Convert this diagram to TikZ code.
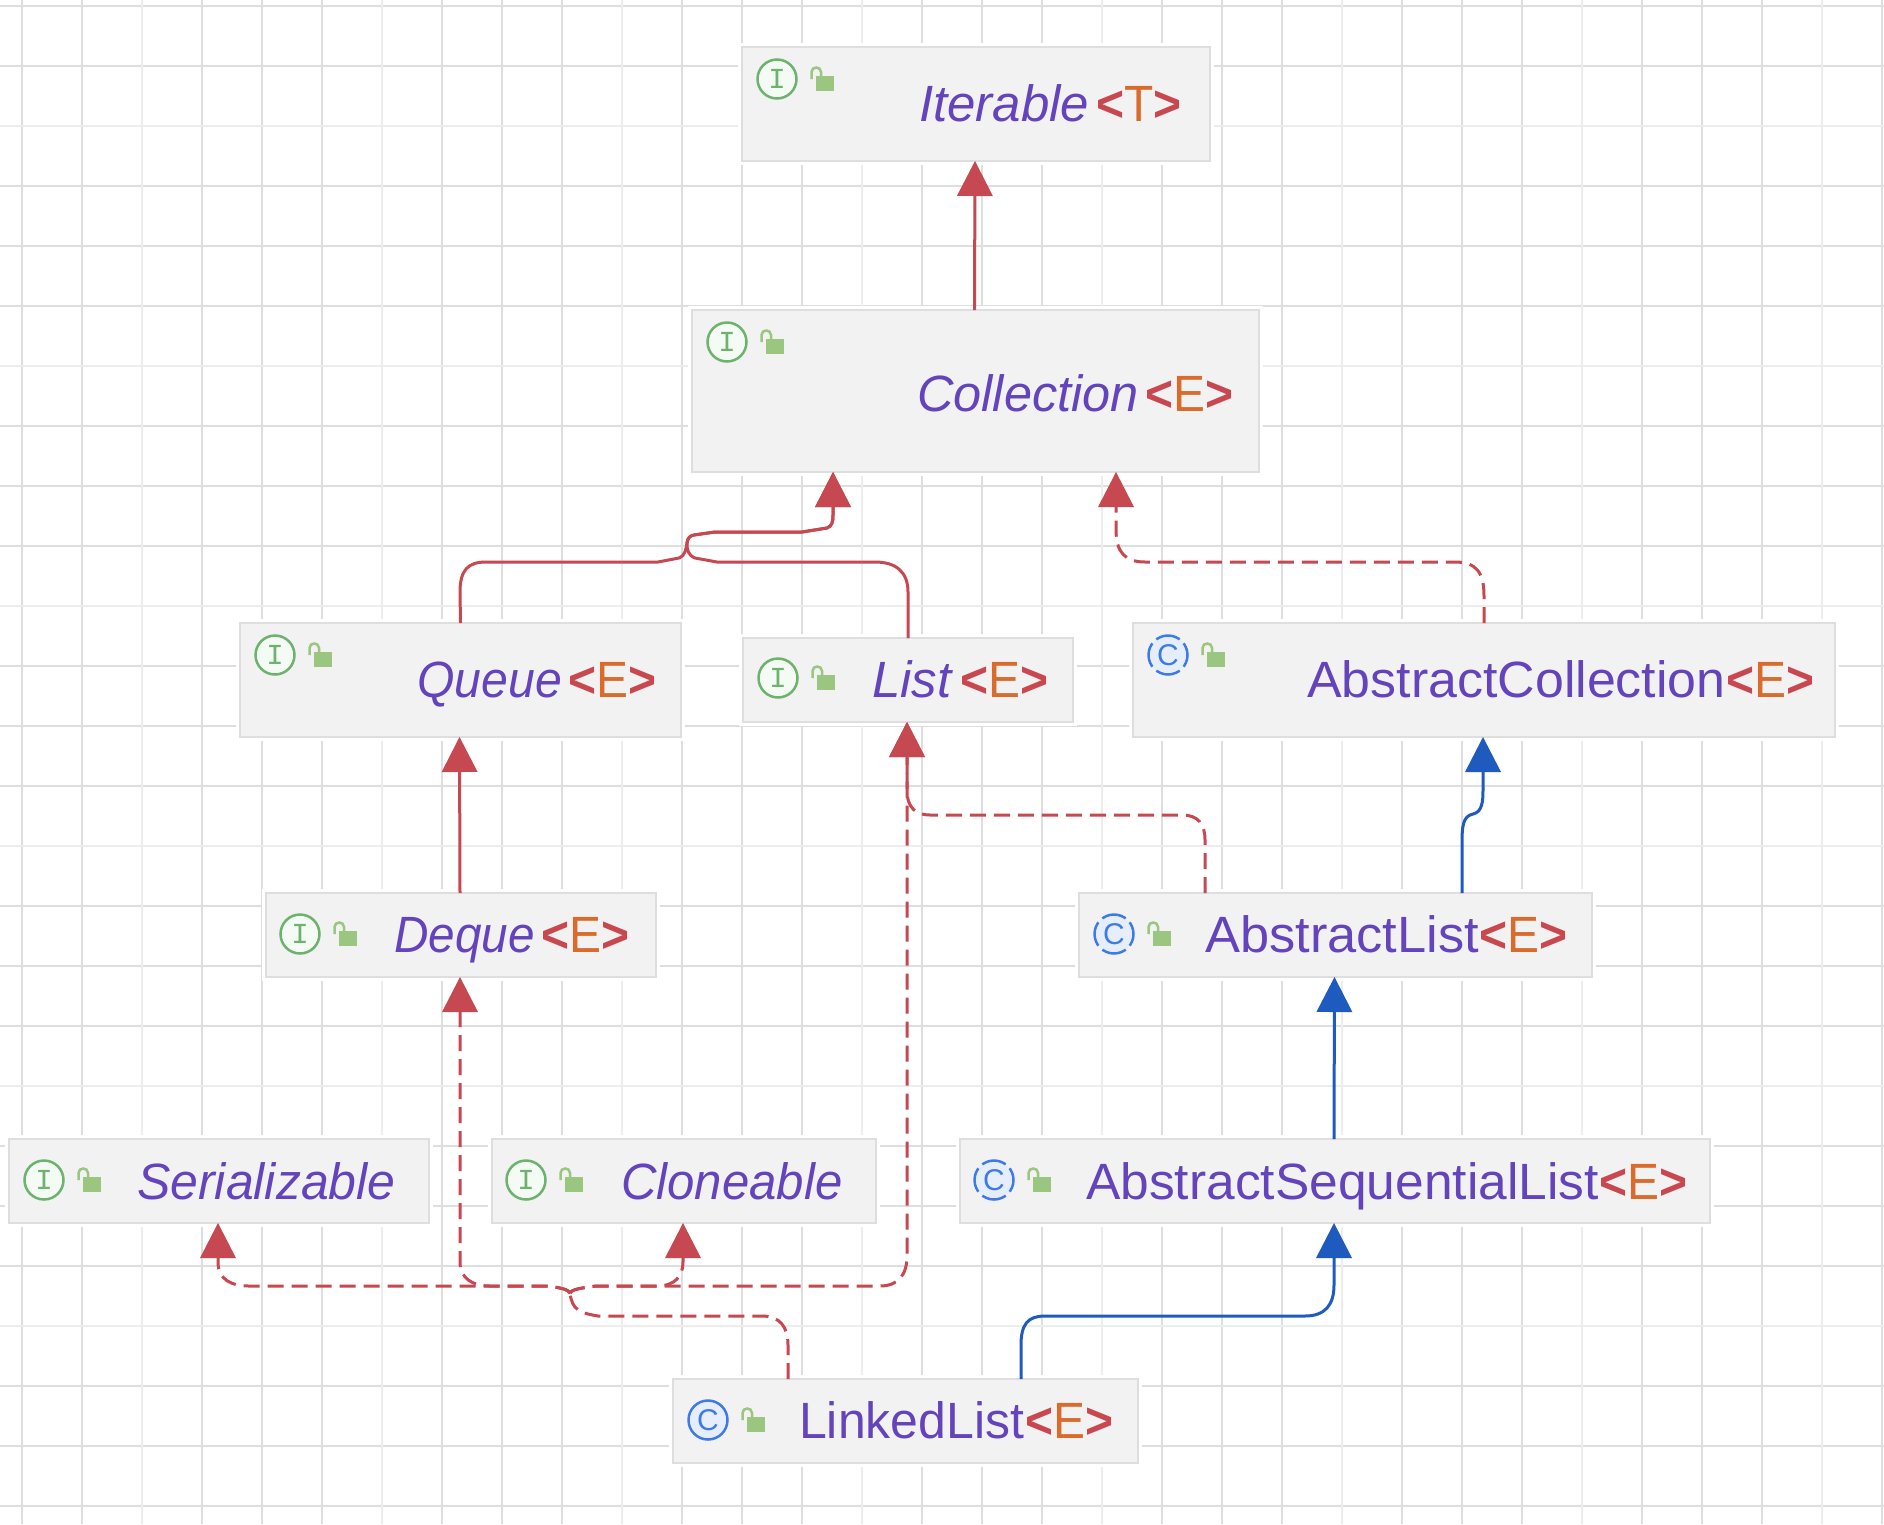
\documentclass[tikz,border=0pt]{standalone}
\usepackage{fontspec}
\usepackage{graphicx}
\setmainfont{Liberation Sans}
\newfontfamily\markfont{Liberation Mono}
\usepackage{xcolor}
\usetikzlibrary{arrows.meta}
\definecolor{gridline}{HTML}{DEDEDE}
\definecolor{gridlight}{HTML}{EDEDED}
\definecolor{boxfill}{HTML}{F2F2F2}
\definecolor{namepurple}{HTML}{6444BC}
\definecolor{anglered}{HTML}{C9474F}
\definecolor{paramorange}{HTML}{D96B2D}
\definecolor{arrowred}{HTML}{C64850}
\definecolor{arrowblue}{HTML}{1F5BBE}
\definecolor{ifacegreen}{HTML}{6DB36D}
\definecolor{ifacefill}{HTML}{F4FAF4}
\definecolor{classblue}{HTML}{3F7BE8}
\definecolor{classfill}{HTML}{E6EEFC}
\definecolor{lockgreen}{HTML}{9AC680}
\newcommand{\generic}[1]{\scalebox{.94}[1]{\textcolor{anglered}{\textbf{<}}\textcolor{paramorange}{#1}\textcolor{anglered}{\textbf{>}}}}
\newcommand{\iname}[2][1]{\scalebox{#1}[1]{\textcolor{namepurple}{\textit{#2}}}\hspace{7pt}}
\newcommand{\cname}[2][1]{\scalebox{#1}[1]{\textcolor{namepurple}{#2}}\hspace{1pt}}

\begin{document}
\begin{tikzpicture}[
    x=1pt, y=-1pt,
    box/.style={draw=gridline, fill=boxfill, line width=2.5pt, inner sep=0pt, outer sep=0pt,
                preaction={draw=white, line width=8pt}},
    title/.style={anchor=base west, inner sep=0pt, font=\fontsize{51}{60}\selectfont},
    markc/.style={circle, minimum size=39pt, inner sep=0pt, line width=2.5pt},
    lockicon/.pic={
        \fill[lockgreen] (39,-3) rectangle (57,12);
        \draw[lockgreen, line width=2.5pt] (34.5,0) -- (34.5,-7)
            .. controls (34.5,-13) and (44,-13) .. (44,-7) -- (44,-3);
    },
    ifaceicon/.pic={
        \node[markc, draw=ifacegreen, fill=ifacefill, text=ifacegreen,
              font=\markfont\fontsize{29}{29}\selectfont] (-mark) at (0,0) {I};
        \pic {lockicon};
    },
    classicon/.pic={
        \node[markc, draw=classblue, fill=classfill, text=classblue,
              font=\fontsize{30}{30}\selectfont] (-mark) at (0,0) {C};
        \pic {lockicon};
    },
    absicon/.pic={
        \node[markc, draw=classblue, fill=classfill, text=classblue,
              dash pattern=on 25pt off 5.6pt, dash phase=12.5pt,
              font=\fontsize{30}{30}\selectfont] (-mark) at (0,0) {C};
        \pic {lockicon};
    },
    redarr/.style={-{Triangle[length=35pt, width=36pt, line width=0pt]}, line width=3pt, arrowred},
    dasharr/.style={redarr, dash pattern=on 16pt off 8pt},
    bluearr/.style={-{Triangle[length=35pt, width=36pt, line width=0pt]}, line width=3pt, arrowblue}
]
\useasboundingbox (0,0) rectangle (1884,1524);
\fill[white] (0,0) rectangle (1884,1524);

\foreach \x in {22,82,...,1882} \draw[gridline, line width=2pt] (\x,0) -- (\x,1524);
\foreach \y in {6,66,...,1506} \draw[gridline, line width=2pt] (0,\y) -- (1884,\y);
\foreach \x in {142,382,...,1822} \draw[gridlight, line width=2pt] (\x,0) -- (\x,1524);
\foreach \y in {126,366,...,1326} \draw[gridlight, line width=2pt] (0,\y) -- (1884,\y);

\node[box, minimum width=468, minimum height=114] (Iterable) at (976,104) {};
\node[box, minimum width=567, minimum height=162] (Collection) at (975.5,391) {};
\node[box, minimum width=441, minimum height=114] (Queue) at (460.5,680) {};
\node[box, minimum width=330, minimum height=84] (List) at (908,680) {};
\node[box, minimum width=702, minimum height=114] (AbstractCollection) at (1484,680) {};
\node[box, minimum width=390, minimum height=84] (Deque) at (461,935) {};
\node[box, minimum width=513, minimum height=84] (AbstractList) at (1335.5,935) {};
\node[box, minimum width=420, minimum height=84] (Serializable) at (219,1181) {};
\node[box, minimum width=384, minimum height=84] (Cloneable) at (684,1181) {};
\node[box, minimum width=750, minimum height=84] (AbstractSequentialList) at (1335,1181) {};
\node[box, minimum width=465, minimum height=84] (LinkedList) at (905.5,1421) {};

\pic (IterableIcon) at (777,79) {ifaceicon};
\pic (CollectionIcon) at (727,342) {ifaceicon};
\pic (QueueIcon) at (275,655) {ifaceicon};
\pic (ListIcon) at (778,678) {ifaceicon};
\pic (AbstractCollectionIcon) at (1168,655) {absicon};
\pic (DequeIcon) at (300,934) {ifaceicon};
\pic (AbstractListIcon) at (1114,934) {absicon};
\pic (SerializableIcon) at (44,1180) {ifaceicon};
\pic (CloneableIcon) at (526,1180) {ifaceicon};
\pic (AbstractSequentialListIcon) at (994,1180) {absicon};
\pic (LinkedListIcon) at (708,1420) {classicon};

\node[title] (IterableName) at (919,121) {\iname{Iterable}\generic{T}};
\node[title] (CollectionName) at (917,411) {\iname[.99]{Collection}\generic{E}};
\node[title] (QueueName) at (417,697) {\iname[.945]{Queue}\generic{E}};
\node[title] (ListName) at (872,697) {\iname{List}\generic{E}};
\node[title] (AbstractCollectionName) at (1307,697) {\cname[1.018]{AbstractCollection}\generic{E}};
\node[title] (DequeName) at (394,952) {\iname[.935]{Deque}\generic{E}};
\node[title] (AbstractListName) at (1205,952) {\cname[1.027]{AbstractList}\generic{E}};
\node[title] (SerializableName) at (137,1199) {\iname[.98]{Serializable}};
\node[title] (CloneableName) at (621,1199) {\iname[.963]{Cloneable}};
\node[title] (AbstractSequentialListName) at (1086,1199) {\cname[1.01]{AbstractSequentialList}\generic{E}};
\node[title] (LinkedListName) at (799,1438) {\cname[.98]{LinkedList}\generic{E}};

\draw[redarr] ([xshift=-1pt]Collection.north) -- ([xshift=-1pt]Iterable.south);
\draw[redarr] ([xshift=-1pt]Deque.north) -- ([xshift=-1pt]Queue.south);
\draw[bluearr] ([xshift=-1pt]AbstractSequentialList.north) -- ([xshift=-1pt]AbstractList.south);

\draw[redarr] (Queue.north) -- (460,592) .. controls (460,570) and (468,562) .. (486,562)
    -- (658,562) -- (679,558) .. controls (686,555) and (686,548) .. (687,543)
    .. controls (688,537) and (690,536) .. (694,535) -- (715,532) -- (802,532)
    -- (827,528) .. controls (832,526) and (833,522) .. (833,515)
    -- ([xshift=-142.5pt]Collection.south);
\draw[redarr] (List.north) -- (908,592) .. controls (908,572) and (896,562) .. (875,562)
    -- (717,562) -- (695,558) .. controls (688,555) and (687,550) .. (687,543)
    .. controls (688,537) and (690,536) .. (694,535) -- (715,532) -- (802,532)
    -- (827,528) .. controls (832,526) and (833,522) .. (833,515)
    -- ([xshift=-142.5pt]Collection.south);

\draw[dasharr] (AbstractCollection.north) -- (1484,596) .. controls (1484,572) and (1476,562) .. (1455,562)
    -- (1145,562) .. controls (1125,562) and (1116,552) .. (1116,530)
    -- ([xshift=140.5pt]Collection.south);
\draw[dasharr] ([xshift=-130.5pt]AbstractList.north) -- (1205,840) .. controls (1205,824) and (1198,815) .. (1182,815)
    -- (930,815) .. controls (916,815) and (907,808) .. (907,790) -- ([xshift=-1pt]List.south);
\draw[bluearr] ([xshift=126.5pt]AbstractList.north) -- (1462,843)
    .. controls (1462,826) and (1463,816) .. (1473,814)
    .. controls (1482,812) and (1483,802) .. (1483,790)
    -- ([xshift=-1pt]AbstractCollection.south);

\draw[bluearr] ([xshift=115.5pt]LinkedList.north) -- (1021,1345) .. controls (1021,1324) and (1028,1316) .. (1045,1316)
    -- (1305,1316) .. controls (1325,1316) and (1334,1305) .. (1334,1285)
    -- ([xshift=-1pt]AbstractSequentialList.south);

\coordinate (LinkedJog) at (570,1293);
\draw[arrowred, line width=3pt, dash pattern=on 16pt off 8pt] ([xshift=-117.5pt]LinkedList.north) -- (788,1345)
    .. controls (788,1327) and (780,1316) .. (762,1316)
    -- (598,1316) .. controls (580,1313) and (572,1310) .. (LinkedJog);
\draw[dasharr] (LinkedJog) .. controls (568,1289) and (560,1288) .. (549,1286)
    -- (249,1286) .. controls (232,1286) and (218,1280) .. (218,1262) -- ([xshift=-1pt]Serializable.south);
\draw[dasharr] (LinkedJog) .. controls (568,1289) and (560,1288) .. (549,1286)
    -- (490,1286) .. controls (472,1286) and (460,1278) .. (460,1262) -- ([xshift=-1pt]Deque.south);
\draw[dasharr] (LinkedJog) .. controls (572,1289) and (582,1288) .. (596,1286)
    -- (657,1286) .. controls (675,1286) and (683,1276) .. (683,1262) -- ([xshift=-1pt]Cloneable.south);
\draw[dasharr] (LinkedJog) .. controls (572,1289) and (582,1288) .. (596,1286)
    -- (880,1286) .. controls (898,1286) and (907,1275) .. (907,1256) -- ([xshift=-1pt]List.south);
\end{tikzpicture}
\end{document}
